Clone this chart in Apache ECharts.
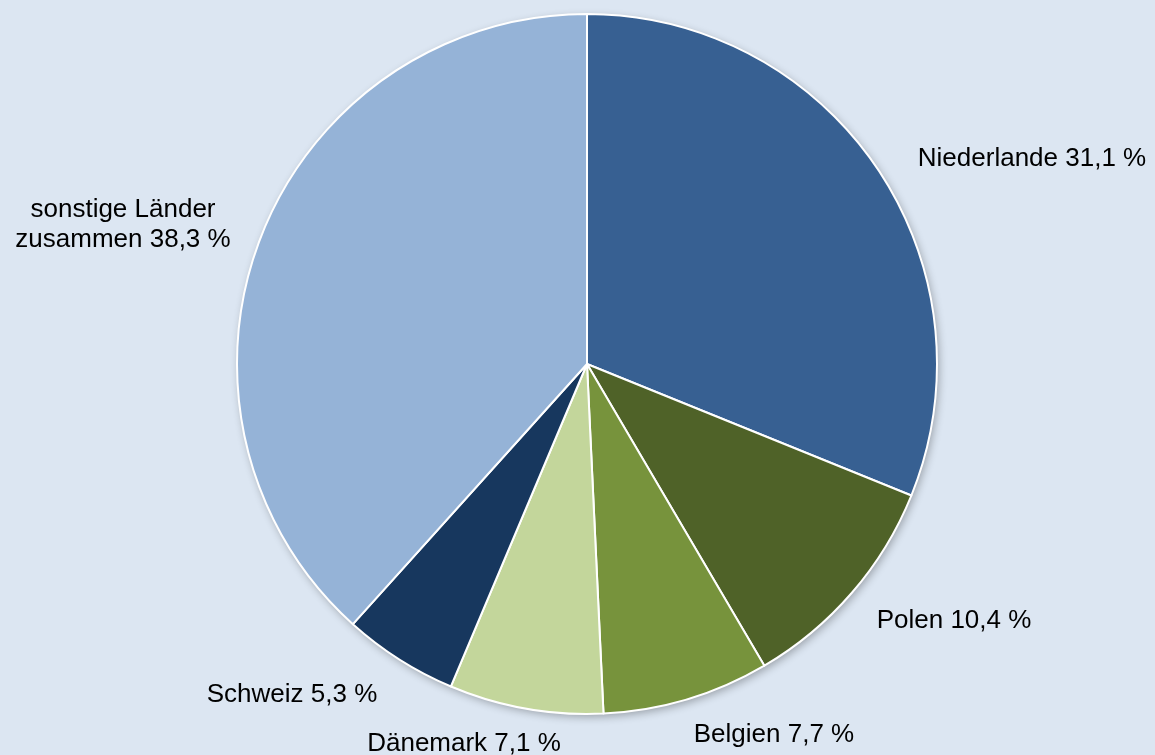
<!DOCTYPE html>
<html>
<head>
<meta charset="utf-8">
<script src="https://cdn.jsdelivr.net/npm/echarts@6/dist/echarts.min.js"></script>
<style>
  html, body { margin: 0; padding: 0; background: #dce6f2; }
  #chart { width: 1155px; height: 755px; }
</style>
</head>
<body>
<div id="chart"></div>
<script>
// Anteile in Prozent, im Uhrzeigersinn ab 12 Uhr
const laender = ['Niederlande', 'Polen', 'Belgien', 'Dänemark', 'Schweiz', 'sonstige Länder\nzusammen'];
const anteile = [31.1, 10.4, 7.7, 7.1, 5.3, 38.3];
const farben = ['#376092', '#4f6228', '#77933c', '#c3d69b', '#17375e', '#95b3d7'];

// Mittelpunkt der Beschriftungen (Pixel)
const labelPos = [
  [1032, 159],
  [954, 621],
  [774, 735],
  [464, 744],
  [292, 695],
  [123, 225]
];

const chart = echarts.init(document.getElementById('chart'));

const gesamt = anteile.reduce((a, b) => a + b, 0);

chart.setOption({
  backgroundColor: '#dce6f2',
  animation: false,
  series: [
    {
      // nur fuer den Schatten unter dem Kreis
      type: 'pie',
      silent: true,
      center: [587, 364],
      radius: 350,
      z: 1,
      label: { show: false },
      labelLine: { show: false },
      data: [{ value: gesamt }],
      itemStyle: {
        color: '#95b3d7',
        shadowBlur: 8,
        shadowOffsetX: 2,
        shadowOffsetY: 3,
        shadowColor: 'rgba(0,0,0,0.3)'
      }
    },
    {
      type: 'pie',
      center: [587, 364],
      radius: 350,
      startAngle: 90,
      clockwise: true,
      z: 2,
      avoidLabelOverlap: false,
      data: laender.map((name, i) => ({
        name: name,
        value: anteile[i],
        itemStyle: { color: farben[i] }
      })),
      itemStyle: {
        borderColor: '#ffffff',
        borderWidth: 2
      },
      label: {
        show: true,
        position: 'outside',
        width: 300,
        overflow: 'none',
        color: '#000000',
        fontFamily: 'Liberation Sans, Arial, sans-serif',
        fontSize: 26,
        lineHeight: 30,
        align: 'center',
        formatter: (p) => p.name + ' ' + p.value.toFixed(1).replace('.', ',') + ' %'
      },
      labelLine: { show: false },
      labelLayout: (p) => ({
        x: labelPos[p.dataIndex][0],
        y: labelPos[p.dataIndex][1],
        align: 'center',
        verticalAlign: 'middle'
      }),
      emphasis: { disabled: true }
    }
  ]
});
</script>
</body>
</html>
